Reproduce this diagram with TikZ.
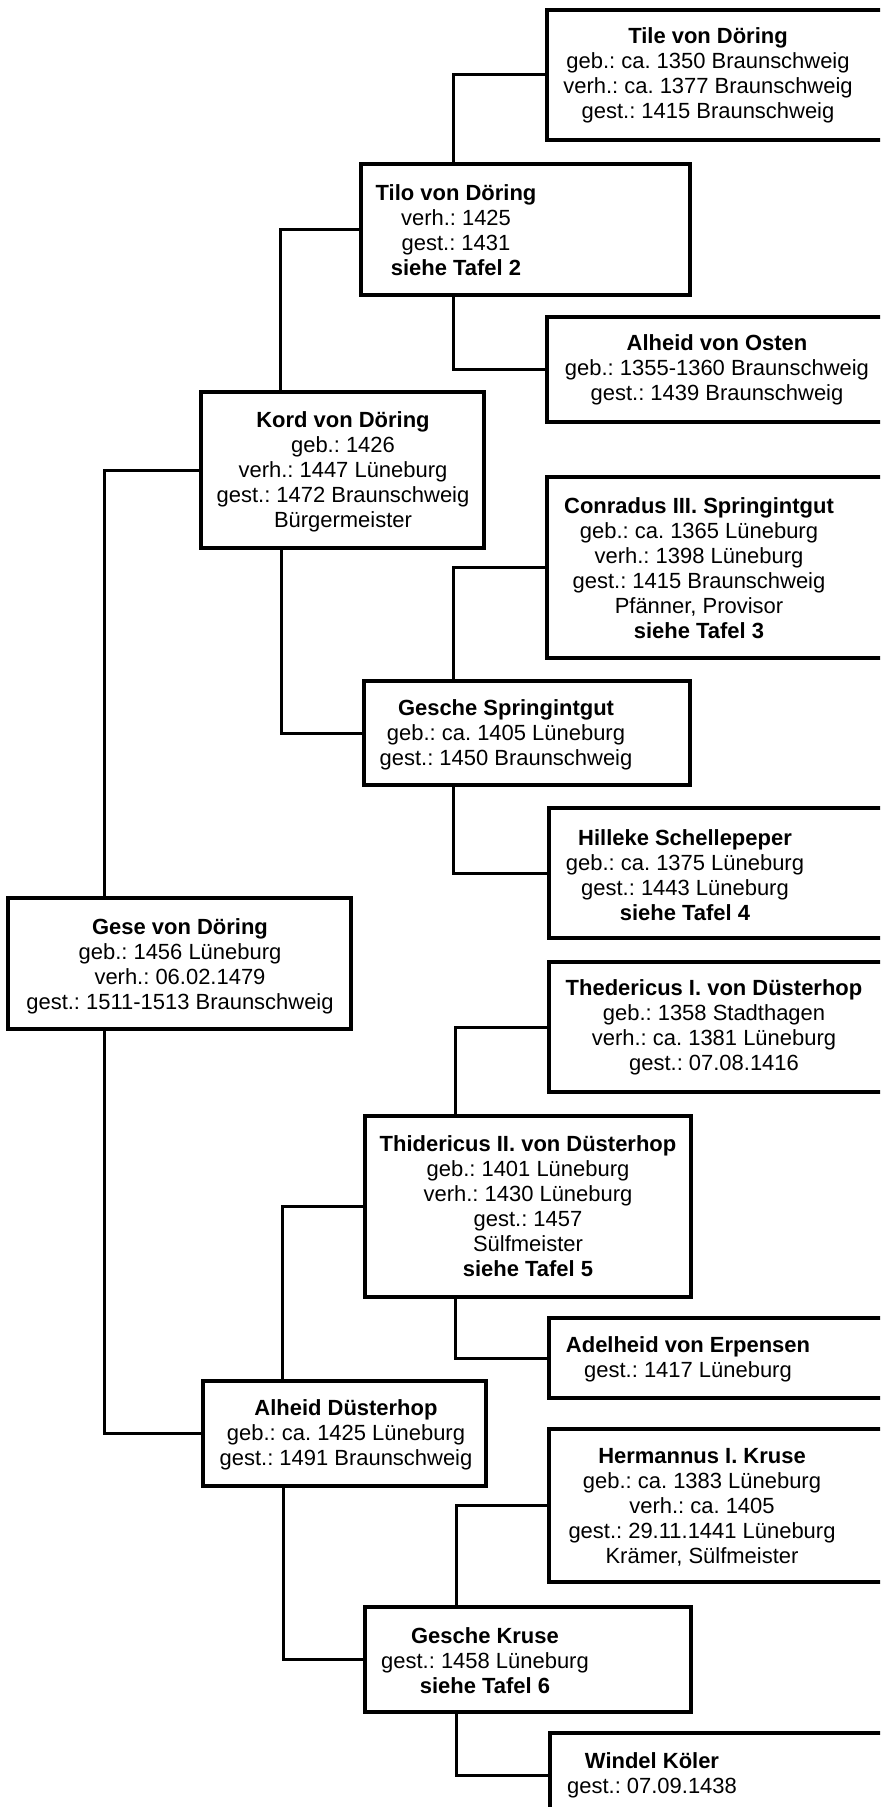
\documentclass[tikz,border=0pt]{standalone}
\usepackage{fontspec}
\setmainfont{Liberation Sans}
\usepackage{tikz}
\frenchspacing

\begin{document}
\begin{tikzpicture}[x=0.02cm, y=-0.02cm,
personbox/.style={draw=black, line width=0.08cm, inner sep=0pt, outer sep=0pt},
info/.style={align=center, inner sep=0pt, font=\fontsize{12.5pt}{14.2pt}\selectfont},
link/.style={draw=black, line width=0.06cm}
]
    \clip[use as bounding box] (0,0) rectangle (880,1807);

    \node [personbox, minimum width=6.96cm, minimum height=2.6cm]  (tile)       at (721,75)      {};
    \node [personbox, minimum width=6.58cm, minimum height=2.62cm] (tilo)       at (525.5,229.5) {};
    \node [personbox, minimum width=6.96cm, minimum height=2.1cm]  (osten)      at (721,369.5)   {};
    \node [personbox, minimum width=5.66cm, minimum height=3.12cm] (kord)       at (342.5,470)   {};
    \node [personbox, minimum width=6.96cm, minimum height=3.62cm] (conradus)   at (721,567.5)   {};
    \node [personbox, minimum width=6.52cm, minimum height=2.08cm] (geschesp)   at (527,733)     {};
    \node [personbox, minimum width=6.92cm, minimum height=2.6cm]  (hilleke)    at (722,873)     {};
    \node [personbox, minimum width=6.86cm, minimum height=2.62cm] (gese)       at (179.5,963.5) {};
    \node [personbox, minimum width=6.92cm, minimum height=2.6cm]  (thedericus) at (722,1027)    {};
    \node [personbox, minimum width=6.52cm, minimum height=3.62cm] (thidericus) at (528,1206.5)  {};
    \node [personbox, minimum width=6.92cm, minimum height=1.6cm]  (adelheid)   at (722,1358)    {};
    \node [personbox, minimum width=5.66cm, minimum height=2.1cm]  (alheid)     at (344.5,1433.5){};
    \node [personbox, minimum width=6.92cm, minimum height=3.06cm] (hermannus)  at (722,1505.5)  {};
    \node [personbox, minimum width=6.52cm, minimum height=2.1cm]  (geschekr)   at (528,1659.5)  {};
    \node [personbox, minimum width=6.9cm,  minimum height=1.68cm] (windel)     at (722.5,1775)  {};

    \node [info] (tile-t)       at (708,75)   {\textbf{Tile von Döring}\\geb.: ca. 1350 Braunschweig\\verh.: ca. 1377 Braunschweig\\gest.: 1415 Braunschweig};
    \node [info] (tilo-t)       at (456,230)  {\textbf{Tilo von Döring}\\verh.: 1425\\gest.: 1431\\\textbf{siehe Tafel 2}};
    \node [info] (osten-t)      at (717,370)  {\textbf{Alheid von Osten}\\geb.: 1355-1360 Braunschweig\\gest.: 1439 Braunschweig};
    \node [info] (kord-t)       at (343,472)  {\textbf{Kord von Döring}\\geb.: 1426\\verh.: 1447 Lüneburg\\gest.: 1472 Braunschweig\\Bürgermeister};
    \node [info] (conradus-t)   at (699,568)  {\textbf{Conradus III. Springintgut}\\geb.: ca. 1365 Lüneburg\\verh.: 1398 Lüneburg\\gest.: 1415 Braunschweig\\Pfänner, Provisor\\\textbf{siehe Tafel 3}};
    \node [info] (geschesp-t)   at (506,735)  {\textbf{Gesche Springintgut}\\geb.: ca. 1405 Lüneburg\\gest.: 1450 Braunschweig};
    \node [info] (hilleke-t)    at (685,875)  {\textbf{Hilleke Schellepeper}\\geb.: ca. 1375 Lüneburg\\gest.: 1443 Lüneburg\\\textbf{siehe Tafel 4}};
    \node [info] (gese-t)       at (180,966)  {\textbf{Gese von Döring}\\geb.: 1456 Lüneburg\\verh.: 06.02.1479\\gest.: 1511-1513 Braunschweig};
    \node [info] (thedericus-t) at (714,1027) {\textbf{Thedericus I. von Düsterhop}\\geb.: 1358 Stadthagen\\verh.: ca. 1381 Lüneburg\\gest.: 07.08.1416};
    \node [info] (thidericus-t) at (528,1206) {\textbf{Thidericus II. von Düsterhop}\\geb.: 1401 Lüneburg\\verh.: 1430 Lüneburg\\gest.: 1457\\Sülfmeister\\\textbf{siehe Tafel 5}};
    \node [info] (adelheid-t)   at (688,1359) {\textbf{Adelheid von Erpensen}\\gest.: 1417 Lüneburg};
    \node [info] (alheid-t)     at (346,1435) {\textbf{Alheid Düsterhop}\\geb.: ca. 1425 Lüneburg\\gest.: 1491 Braunschweig};
    \node [info] (hermannus-t)  at (702,1507) {\textbf{Hermannus I. Kruse}\\geb.: ca. 1383 Lüneburg\\verh.: ca. 1405\\gest.: 29.11.1441 Lüneburg\\Krämer, Sülfmeister};
    \node [info] (geschekr-t)   at (485,1661) {\textbf{Gesche Kruse}\\gest.: 1458 Lüneburg\\\textbf{siehe Tafel 6}};
    \node [info] (windel-t)     at (652,1775) {\textbf{Windel Köler}\\gest.: 07.09.1438};

    \draw [link] (tile.west) -| ([xshift=1.84cm]tilo.north west);
    \draw [link] ([xshift=1.84cm]tilo.south west) |- (osten.west);
    \draw [link] (tilo.west) -| ([xshift=1.58cm]kord.north west);
    \draw [link] ([xshift=1.6cm]kord.south west) |- (geschesp.west);
    \draw [link] (conradus.west) -| ([xshift=1.78cm]geschesp.north west);
    \draw [link] ([xshift=1.78cm]geschesp.south west) |- (hilleke.west);
    \draw [link] (kord.west) -| ([xshift=1.92cm]gese.north west);
    \draw [link] ([xshift=1.92cm]gese.south west) |- (alheid.west);
    \draw [link] (thedericus.west) -| ([xshift=1.8cm]thidericus.north west);
    \draw [link] ([xshift=1.8cm]thidericus.south west) |- (adelheid.west);
    \draw [link] (thidericus.west) -| ([xshift=1.58cm]alheid.north west);
    \draw [link] ([xshift=1.6cm]alheid.south west) |- (geschekr.west);
    \draw [link] (hermannus.west) -| ([xshift=1.82cm]geschekr.north west);
    \draw [link] ([xshift=1.82cm]geschekr.south west) |- (windel.west);
\end{tikzpicture}
\end{document}
